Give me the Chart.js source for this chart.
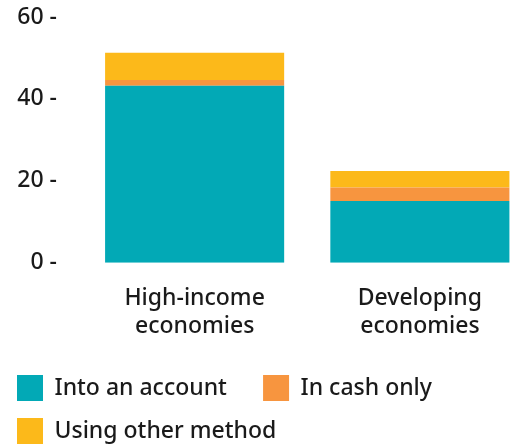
<!DOCTYPE html>
<html>
<head>
<meta charset="utf-8">
<script src="https://cdn.jsdelivr.net/npm/chart.js@4"></script>
<style>
  html, body { margin: 0; padding: 0; overflow: hidden; background: #fff; }
</style>
</head>
<body>
<canvas id="chart" width="535" height="446"></canvas>
<script>
const categories = [['High-income', 'economies'], ['Developing', 'economies']];
const intoAccount = [43.2, 15.1];
const cashOnly = [1.4, 3.3];
const otherMethod = [6.7, 4.0];
const yTicks = [0, 20, 40, 60];

const textColor = '#1a1a1a';
Chart.defaults.font.family = '"Noto Sans", sans-serif';
Chart.defaults.font.size = 23;
Chart.defaults.font.weight = '500';
Chart.defaults.color = textColor;

const ctx = document.getElementById('chart').getContext('2d');
new Chart(ctx, {
  type: 'bar',
  data: {
    labels: categories,
    datasets: [
      { label: 'Into an account', data: intoAccount, backgroundColor: '#02a9b6' },
      { label: 'In cash only', data: cashOnly, backgroundColor: '#f7953f' },
      { label: 'Using other method', data: otherMethod, backgroundColor: '#fcb91a' }
    ]
  },
  options: {
    responsive: false,
    animation: false,
    layout: { padding: { top: 4, right: 2.5, left: 0, bottom: -8 } },
    datasets: { bar: { barPercentage: 0.795, categoryPercentage: 1, borderWidth: 0 } },
    scales: {
      x: {
        stacked: true,
        afterFit: axis => { axis.height -= 4; },
        grid: { display: false, drawTicks: false },
        border: { display: false },
        ticks: { padding: 22, maxRotation: 0, font: { lineHeight: 1.2 } }
      },
      y: {
        stacked: true,
        min: 0,
        max: 60,
        afterBuildTicks: axis => { axis.ticks = yTicks.map(v => ({ value: v })); },
        // fixed axis width, and keep the tick padding from pushing the plot down
        afterFit: axis => {
          axis.width = 82;
          axis.paddingTop = 17;
          axis.paddingBottom = 13;
        },
        grid: { display: false, drawTicks: false },
        border: { display: false },
        ticks: { padding: 25, callback: v => v + ' -' }
      }
    },
    plugins: {
      tooltip: { enabled: false },
      legend: {
        position: 'bottom',
        align: 'start',
        labels: {
          boxWidth: 26,
          boxHeight: 26,
          padding: 17,
          color: textColor,
          // wider gap after the first entry
          generateLabels: chart => Chart.defaults.plugins.legend.labels.generateLabels(chart)
            .map((item, i) => (i === 0 ? { ...item, text: item.text + '\u2002\u2004' } : item))
        }
      }
    }
  }
});
</script>
</body>
</html>
